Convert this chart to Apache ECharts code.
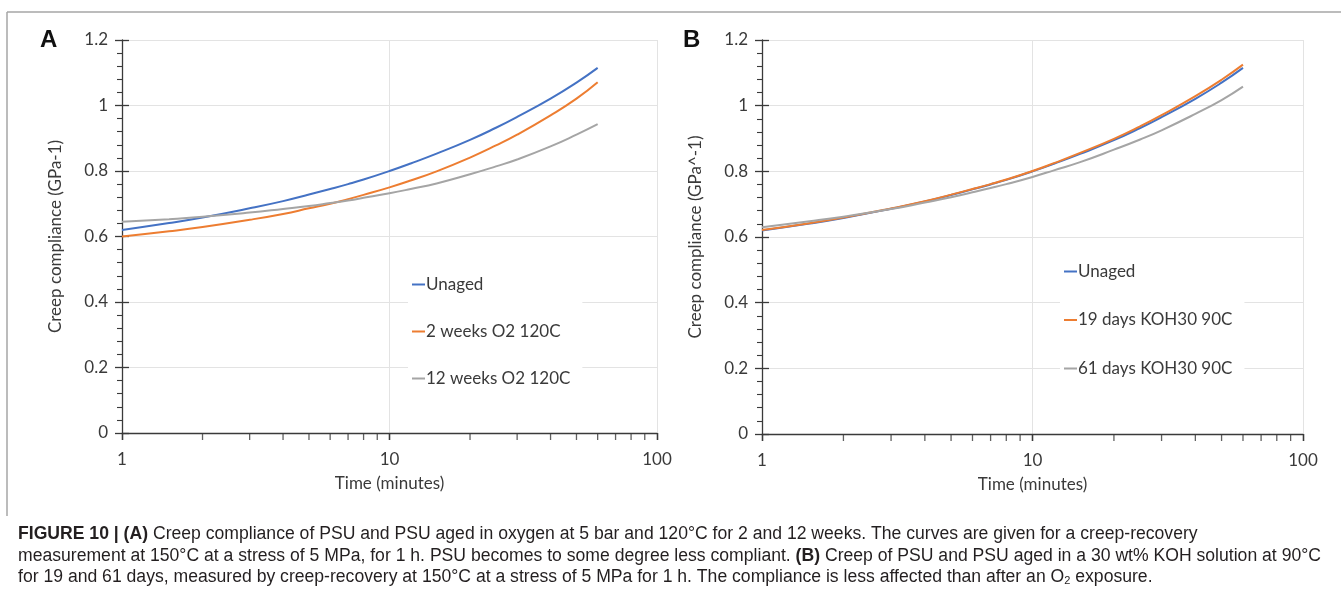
<!DOCTYPE html>
<html>
<head>
<meta charset="utf-8">
<script src="https://cdn.jsdelivr.net/npm/echarts@6/dist/echarts.min.js"></script>
<style>
html,body{margin:0;padding:0;background:#fff;}
#chart{width:1341px;height:606px;}
</style>
</head>
<body>
<div id="chart"></div>
<script>
// ---- data ----
const timeMin = [1, 1.5, 2, 3, 4, 5, 6, 7, 8, 10, 12, 15, 20, 25, 30, 40, 50, 60];

const aUnaged  = [0.620, 0.641, 0.658, 0.686, 0.708, 0.728, 0.745, 0.760, 0.774, 0.800, 0.823, 0.853, 0.895, 0.932, 0.965, 1.021, 1.070, 1.115];
const a2weeks  = [0.600, 0.616, 0.629, 0.651, 0.669, 0.686, 0.700, 0.714, 0.727, 0.750, 0.771, 0.799, 0.841, 0.878, 0.911, 0.970, 1.021, 1.071];
const a12weeks = [0.645, 0.653, 0.660, 0.673, 0.684, 0.693, 0.702, 0.710, 0.718, 0.732, 0.745, 0.762, 0.790, 0.814, 0.835, 0.875, 0.911, 0.943];

const bUnaged  = [0.620, 0.641, 0.658, 0.686, 0.708, 0.728, 0.745, 0.760, 0.774, 0.800, 0.823, 0.853, 0.895, 0.932, 0.965, 1.021, 1.070, 1.115];
const b19days  = [0.621, 0.642, 0.659, 0.687, 0.709, 0.729, 0.746, 0.761, 0.775, 0.801, 0.825, 0.856, 0.899, 0.937, 0.971, 1.029, 1.079, 1.125];
const b61days  = [0.630, 0.648, 0.662, 0.685, 0.705, 0.721, 0.736, 0.749, 0.761, 0.783, 0.803, 0.828, 0.866, 0.897, 0.925, 0.975, 1.017, 1.058];

const namesA = ['Unaged', '2 weeks O2 120C', '12 weeks O2 120C'];
const namesB = ['Unaged', '19 days KOH30 90C', '61 days KOH30 90C'];
const xTickLabels = ['1', '10', '100'];
const minorXTicks = [2, 3, 4, 5, 6, 7, 8, 9, 20, 30, 40, 50, 60, 70, 80, 90];
const yTitleA = 'Creep compliance (GPa-1)';
const yTitleB = 'Creep compliance (GPa^-1)';
const xTitle = 'Time (minutes)';

const colors = ['#4472C4', '#ED7D31', '#A5A5A5'];
const axisColor = '#3a3a3a';
const labelFont = 'Lato, "Open Sans", sans-serif';

function pairs(vals) { return timeMin.map((t, i) => [t, vals[i]]); }

const grids = [
  {left: 122, right: 684, top: 40, bottom: 173},
  {left: 762, right: 38, top: 40, bottom: 172}
];

function xAxes(gi) {
  return [
    {
      type: 'log', logBase: 10, min: 1, max: 100, gridIndex: gi,
      axisLine: {onZero: false, lineStyle: {color: axisColor, width: 1.3}},
      axisTick: {show: true, length: 7, lineStyle: {color: axisColor, width: 1.3}},
      axisLabel: {color: axisColor, fontSize: 17, fontFamily: labelFont, margin: 18,
        formatter: v => xTickLabels[Math.round(Math.log10(v))]},
      splitLine: {show: true, lineStyle: {color: '#e3e3e3', width: 1}},
      name: xTitle, nameLocation: 'middle', nameGap: 42,
      nameTextStyle: {color: axisColor, fontSize: 17, fontFamily: labelFont}
    },
    {
      type: 'log', logBase: 10, min: 1, max: 100, gridIndex: gi,
      axisLine: {show: false},
      axisTick: {show: true, inside: true, length: 7, lineStyle: {color: axisColor, width: 1.3}},
      axisLabel: {show: false}, splitLine: {show: false}
    }
  ];
}

function yAxes(gi, title) {
  return [
    {
      type: 'value', min: 0, max: 1.2, interval: 0.2, gridIndex: gi,
      axisLine: {show: true, lineStyle: {color: axisColor, width: 1.3}},
      axisTick: {show: true, length: 7, lineStyle: {color: axisColor, width: 1.3}},
      minorTick: {show: true, splitNumber: 5, length: 5, lineStyle: {color: axisColor, width: 1.1}},
      axisLabel: {color: axisColor, fontSize: 17, fontFamily: labelFont, margin: 14,
        formatter: v => String(+v.toFixed(1))},
      splitLine: {show: true, lineStyle: {color: '#e3e3e3', width: 1}},
      name: title, nameLocation: 'middle', nameGap: 58, nameRotate: 90,
      nameTextStyle: {color: axisColor, fontSize: 17, fontFamily: labelFont}
    },
    {
      type: 'value', min: 0, max: 1.2, interval: 0.2, gridIndex: gi, position: 'left',
      axisLine: {show: false},
      axisTick: {show: true, inside: true, length: 7, lineStyle: {color: axisColor, width: 1.3}},
      axisLabel: {show: false}, splitLine: {show: false}
    }
  ];
}

function lineSeries(name, vals, ci, gi) {
  return {
    type: 'line', name: name, data: pairs(vals), xAxisIndex: gi * 2, yAxisIndex: gi * 2,
    smooth: true, showSymbol: false, symbol: 'none', color: colors[ci],
    lineStyle: {color: colors[ci], width: 2}, z: 3, silent: true
  };
}

function minorTickSeries(gi) {
  return {
    type: 'scatter', data: minorXTicks.map(t => [t, 0]), xAxisIndex: gi * 2, yAxisIndex: gi * 2,
    symbol: 'rect', symbolSize: [1.3, 7], symbolOffset: [0, 3.5], clip: false,
    itemStyle: {color: axisColor}, silent: true, z: 4, legendHoverLink: false
  };
}

const captionFont = '"Liberation Sans Narrow", "Liberation Sans", Arial, sans-serif';
const cap1 = '{b|FIGURE 10 | (A)} Creep compliance of PSU and PSU aged in oxygen at 5 bar and 120°C for 2 and 12 weeks. The curves are given for a creep-recovery';
const cap2 = 'measurement at 150°C at a stress of 5 MPa, for 1 h. PSU becomes to some degree less compliant. {b|(B)} Creep of PSU and PSU aged in a 30 wt% KOH solution at 90°C';
const cap3 = 'for 19 and 61 days, measured by creep-recovery at 150°C at a stress of 5 MPa for 1 h. The compliance is less affected than after an O{s|2} exposure.';

function capText(t, y) {
  return {
    type: 'text', left: 18, top: y, silent: true,
    style: {
      text: t, fill: '#231f20', fontSize: 17.6, fontFamily: captionFont,
      rich: {
        b: {fontWeight: 'bold', fontSize: 17.6, fontFamily: captionFont, fill: '#231f20'},
        s: {fontSize: 11, fontFamily: captionFont, fill: '#231f20', padding: [8, 0, 0, 0]}
      }
    }
  };
}

const chart = echarts.init(document.getElementById('chart'), null, {renderer: 'canvas'});
chart.setOption({
  animation: false,
  backgroundColor: '#fff',
  grid: grids,
  xAxis: [...xAxes(0), ...xAxes(1)],
  yAxis: [...yAxes(0, yTitleA), ...yAxes(1, yTitleB)],
  legend: [
    {
      data: namesA, orient: 'vertical', left: 408, top: 268, itemGap: 30,
      icon: 'rect', itemWidth: 13, itemHeight: 2, backgroundColor: '#fff', padding: [8, 12, 8, 4],
      textStyle: {color: axisColor, fontSize: 17, fontFamily: labelFont, padding: [0, 0, 0, -4]},
      selectedMode: false
    },
    {
      data: namesB, orient: 'vertical', left: 1060, top: 255, itemGap: 31.5,
      icon: 'rect', itemWidth: 13, itemHeight: 2, backgroundColor: '#fff', padding: [8, 12, 8, 4],
      textStyle: {color: axisColor, fontSize: 17, fontFamily: labelFont, padding: [0, 0, 0, -4]},
      selectedMode: false
    }
  ],
  series: [
    lineSeries(namesA[0], aUnaged, 0, 0),
    lineSeries(namesA[1], a2weeks, 1, 0),
    lineSeries(namesA[2], a12weeks, 2, 0),
    lineSeries(namesB[0], bUnaged, 0, 1),
    lineSeries(namesB[1], b19days, 1, 1),
    lineSeries(namesB[2], b61days, 2, 1),
    minorTickSeries(0),
    minorTickSeries(1)
  ],
  graphic: [
    {type: 'line', silent: true, shape: {x1: 7, y1: 12, x2: 1341, y2: 12}, style: {stroke: '#a6a6a6', lineWidth: 1.5}},
    {type: 'line', silent: true, shape: {x1: 7, y1: 12, x2: 7, y2: 516}, style: {stroke: '#a6a6a6', lineWidth: 1.5}},
    {type: 'text', left: 40, top: 28, silent: true, style: {text: 'A', fontSize: 24, fontWeight: 'bold', fontFamily: '"Liberation Sans", Arial, sans-serif', fill: '#111'}},
    {type: 'text', left: 683, top: 28, silent: true, style: {text: 'B', fontSize: 24, fontWeight: 'bold', fontFamily: '"Liberation Sans", Arial, sans-serif', fill: '#111'}},
    capText(cap1, 525),
    capText(cap2, 547),
    capText(cap3, 568)
  ]
});
</script>
</body>
</html>
